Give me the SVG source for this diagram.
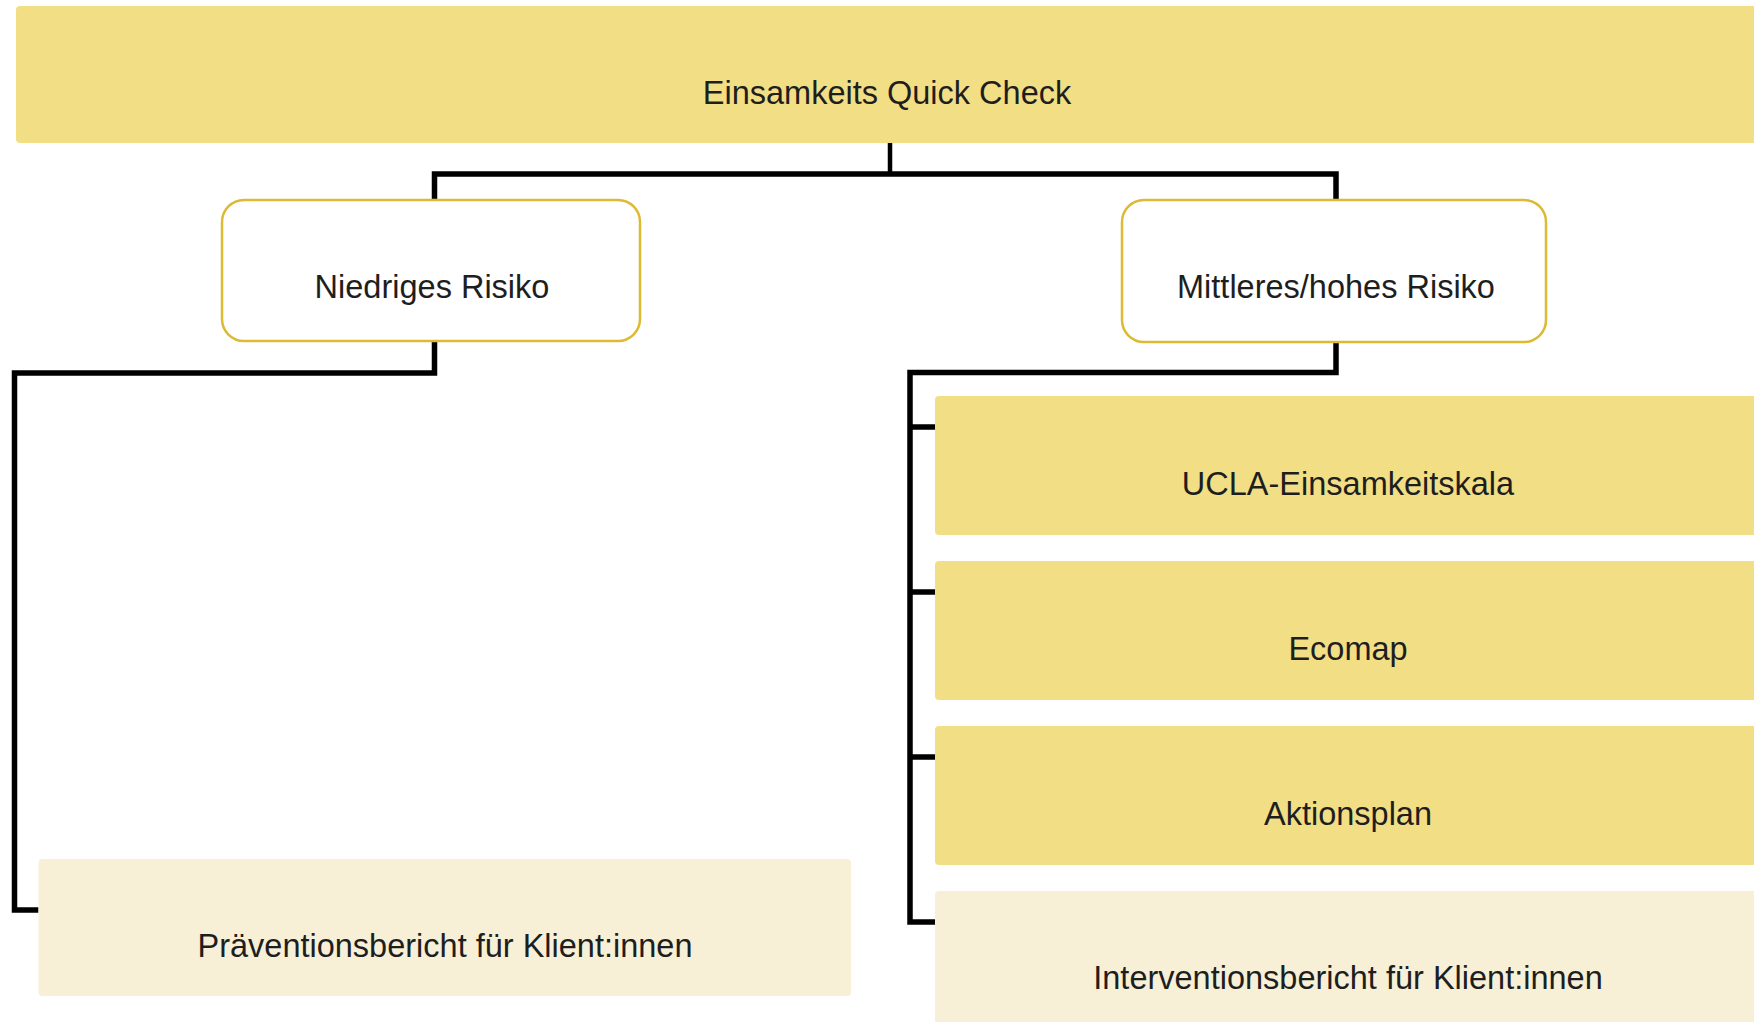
<svg xmlns="http://www.w3.org/2000/svg" width="1754" height="1022" viewBox="0 0 1754 1022">
<style>
.t{font-family:"Liberation Sans",Arial,sans-serif;font-size:32.5px;fill:#1e1e1e;text-anchor:middle}
.dark{fill:#F2DF85}
.light{fill:#F7F0D6}
.ring{fill:#FFFFFF;stroke:#DDBA34;stroke-width:2.5}
.c{fill:none;stroke:#000;stroke-width:5.5;stroke-linejoin:miter;stroke-linecap:butt}
</style>
<rect width="1754" height="1022" fill="#FFFFFF"/>
<g id="connectors">
<line x1="890" y1="143" x2="890" y2="174" stroke="#000" stroke-width="4.5"/>
<path class="c" d="M434.5 200 V174 H1336 V200"/>
<path class="c" d="M434.5 341 V373 H14.5 V910 H38.5"/>
<path class="c" d="M1336 342 V372.5 H910 V922 H935"/>
<path class="c" d="M910 427 H935 M910 592 H935 M910 757 H935"/>
</g>
<g id="n-quickcheck">
<rect class="dark" x="16" y="6" width="1745" height="137" rx="4"/>
<text class="t" x="887" y="104">Einsamkeits Quick Check</text>
</g>
<g id="n-niedrig">
<rect class="ring" x="222" y="200" width="418" height="141" rx="22"/>
<text class="t" x="432" y="298">Niedriges Risiko</text>
</g>
<g id="n-mittel">
<rect class="ring" x="1122" y="200" width="424" height="142" rx="22"/>
<text class="t" x="1336" y="298">Mittleres/hohes Risiko</text>
</g>
<g id="n-ucla">
<rect class="dark" x="935" y="396" width="830" height="139" rx="4"/>
<text class="t" x="1348" y="495">UCLA-Einsamkeitskala</text>
</g>
<g id="n-ecomap">
<rect class="dark" x="935" y="561" width="830" height="139" rx="4"/>
<text class="t" x="1348" y="660">Ecomap</text>
</g>
<g id="n-aktionsplan">
<rect class="dark" x="935" y="726" width="830" height="139" rx="4"/>
<text class="t" x="1348" y="825">Aktionsplan</text>
</g>
<g id="n-intervention">
<rect class="light" x="935" y="891" width="830" height="139" rx="4"/>
<text class="t" x="1348" y="989">Interventionsbericht für Klient:innen</text>
</g>
<g id="n-praevention">
<rect class="light" x="38.5" y="859" width="812.5" height="137" rx="4"/>
<text class="t" x="445" y="957">Präventionsbericht für Klient:innen</text>
</g>
</svg>
